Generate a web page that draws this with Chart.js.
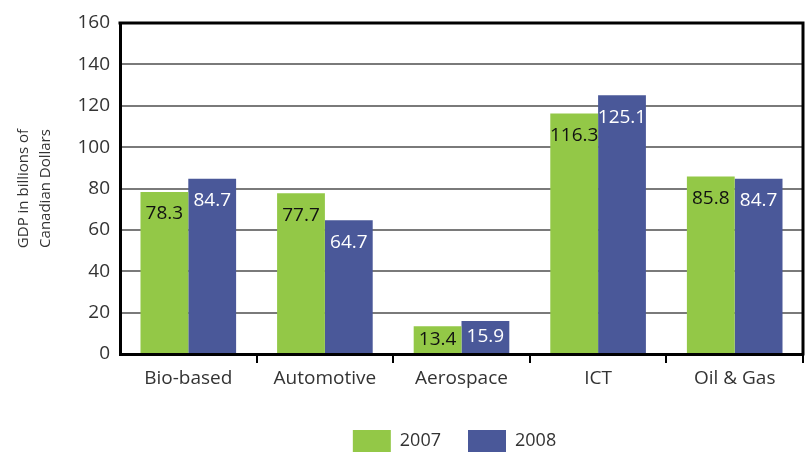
<!DOCTYPE html>
<html>
<head>
<meta charset="utf-8">
<script src="https://cdn.jsdelivr.net/npm/chart.js@4/dist/chart.umd.min.js"></script>
<style>
  html, body { margin: 0; padding: 0; background: #fff; }
  #wrap { width: 809px; height: 453px; }
</style>
</head>
<body>
<div id="wrap"><canvas id="gdpChart"></canvas></div>
<script>
const sectors = ["Bio-based", "Automotive", "Aerospace", "ICT", "Oil & Gas"];
const gdp2007 = [78.3, 77.7, 13.4, 116.3, 85.8];
const gdp2008 = [84.7, 64.7, 15.9, 125.1, 84.7];
const yearLabels = ["2007", "2008"];
const yTicks = [0, 20, 40, 60, 80, 100, 120, 140, 160];

const green = "#93c847";
const blue = "#4a5899";
const font = "'Open Sans', 'DejaVu Sans', sans-serif";

// value text sits just under the top of each bar
const barValues = {
  id: "barValues",
  afterDatasetsDraw(chart) {
    const ctx = chart.ctx;
    ctx.save();
    ctx.font = "19px " + font;
    ctx.textAlign = "center";
    ctx.textBaseline = "middle";
    chart.data.datasets.forEach((ds, i) => {
      const meta = chart.getDatasetMeta(i);
      ctx.fillStyle = i === 0 ? "#111" : "#fff";
      meta.data.forEach((bar, j) => {
        const y = Math.min(bar.y + 22, (bar.y + bar.base) / 2);
        ctx.fillText(ds.data[j].toFixed(1), bar.x, y);
      });
    });
    ctx.restore();
  }
};

// closes the plot box on top and right, legend sits under the plot
const plotBox = {
  id: "plotBox",
  afterLayout(chart) {
    if (chart.legend) {
      chart.legend.left = chart.chartArea.left - 14;
      chart.legend.right = chart.chartArea.right;
    }
  },
  afterDraw(chart) {
    const a = chart.chartArea;
    const ctx = chart.ctx;
    ctx.save();
    ctx.strokeStyle = "#000";
    ctx.lineWidth = 3;
    ctx.beginPath();
    ctx.moveTo(a.left - 1.5, a.top);
    ctx.lineTo(a.right, a.top);
    ctx.lineTo(a.right, a.bottom + 1.5);
    ctx.stroke();
    ctx.restore();
  }
};

new Chart(document.getElementById("gdpChart"), {
  type: "bar",
  data: {
    labels: sectors,
    datasets: [
      { label: yearLabels[0], data: gdp2007, backgroundColor: green },
      { label: yearLabels[1], data: gdp2008, backgroundColor: blue },
    ],
  },
  options: {
    responsive: true,
    maintainAspectRatio: false,
    animation: false,
    datasets: {
      bar: { categoryPercentage: 0.7, barPercentage: 1.0 },
    },
    layout: { padding: { top: 23, right: 6, left: 0, bottom: 0 } },
    scales: {
      x: {
        grid: {
          offset: true,
          drawOnChartArea: false,
          drawTicks: true,
          tickLength: 9,
          lineWidth: 2,
          color: (c) => (c.index === 0 || c.index === sectors.length ? "rgba(0,0,0,0)" : "#000"),
        },
        border: { color: "#000", width: 3 },
        ticks: { color: "#333", font: { family: font, size: 19 }, padding: 4 },
        afterFit(scale) { scale.height = 49; },
      },
      y: {
        min: 0,
        max: 160,
        afterBuildTicks(scale) { scale.ticks = yTicks.map((v) => ({ value: v })); },
        grid: { color: "#7a7a7a", lineWidth: 2, drawTicks: false },
        border: { color: "#000", width: 3 },
        ticks: { color: "#333", font: { family: font, size: 19 }, padding: 10 },
        title: {
          display: true,
          text: ["GDP in billions of", "Canadian Dollars"],
          color: "#333",
          font: { family: font, size: 15, lineHeight: 1.45 },
          padding: { top: 13, bottom: 4 },
        },
        afterFit(scale) { scale.width = 120; },
      },
    },
    plugins: {
      legend: {
        position: "bottom",
        maxHeight: 50,
        labels: {
          boxWidth: 38,
          boxHeight: 22,
          padding: 27,
          color: "#333",
          font: { family: font, size: 18 },
        },
      },
      tooltip: { enabled: false },
    },
  },
  plugins: [barValues, plotBox],
});
</script>
</body>
</html>
